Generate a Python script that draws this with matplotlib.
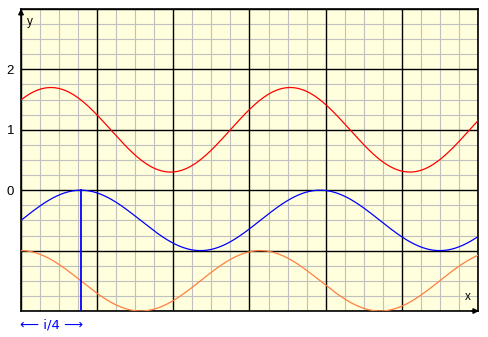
import numpy as np
import matplotlib
matplotlib.use("Agg")
import matplotlib.pyplot as plt

# data
x_min, x_max = 0, 6
y_min, y_max = -2, 3
x = np.linspace(x_min, x_max, 600)
red_center, red_amp, red_phase = 1.0, 0.7, np.pi / 4
blue_center, blue_amp = -0.5, 0.5
orange_center, orange_amp = -1.5, 0.5
y_ticks = [0, 1, 2]
y_tick_labels = ["0", "1", "2"]
marker_x = np.pi / 4

red = red_center + red_amp * np.sin(2 * x + red_phase)
blue = blue_center + blue_amp * np.sin(2 * x)
orange = orange_center + orange_amp * np.cos(2 * x)

W, H = 488, 337
fig = plt.figure(figsize=(W / 100, H / 100), dpi=100)
fig.patch.set_facecolor("white")
L, R, T, B = 21, 478, 9, 311
ax = fig.add_axes([L / W, (H - B) / H, (R - L) / W, (B - T) / H])
ax.set_facecolor("#FFFFDD")
ax.set_xlim(x_min, x_max)
ax.set_ylim(y_min, y_max)

# grid
for xv in np.arange(x_min, x_max + 0.001, 0.25):
    major = abs(xv - round(xv)) < 1e-9
    ax.axvline(xv, color="black" if major else "#C0C0C0", lw=1.0 if major else 0.8, zorder=1 if major else 0.5)
for yv in np.arange(y_min, y_max + 0.001, 0.25):
    major = abs(yv - round(yv)) < 1e-9
    ax.axhline(yv, color="black" if major else "#C0C0C0", lw=1.0 if major else 0.8, zorder=1 if major else 0.5)

ax.plot(x, red, color="#FF0000", lw=0.9, zorder=3)
ax.plot(x, blue, color="#0000FF", lw=0.9, zorder=3)
ax.plot(x, orange, color="#FF7F40", lw=0.9, zorder=3)
ax.plot([marker_x, marker_x], [0, y_min], color="#0000FF", lw=1.3, zorder=3)

for s in ax.spines.values():
    s.set_color("black")
    s.set_linewidth(1.2)
ax.set_xticks([])
ax.set_yticks(y_ticks)
ax.set_yticklabels(y_tick_labels, fontsize=9.5, fontfamily="Liberation Sans")
ax.tick_params(axis="y", length=0, pad=5)

# arrows
ax.annotate("", xy=(x_min, y_max + 0.05), xytext=(x_min, y_max - 0.15),
            arrowprops=dict(arrowstyle="-|>", color="black", lw=1, mutation_scale=8),
            annotation_clip=False)
ax.annotate("", xy=(x_max + 0.05, y_min), xytext=(x_max - 0.12, y_min),
            arrowprops=dict(arrowstyle="-|>", color="black", lw=1, mutation_scale=8),
            annotation_clip=False)
ax.text(0.08, y_max - 0.12, "y", fontsize=8.5, fontfamily="Liberation Sans", va="top", ha="left")
ax.text(x_max - 0.1, y_min + 0.13, "x", fontsize=8.5, fontfamily="Liberation Sans", va="bottom", ha="right")

fig.text(20 / W, 1 - 325 / H, "\u27f5 i/4 \u27f6", color="#0000FF", fontsize=9.5,
         fontfamily="DejaVu Sans", ha="left", va="center")

fig.savefig("out.png", dpi=100)
